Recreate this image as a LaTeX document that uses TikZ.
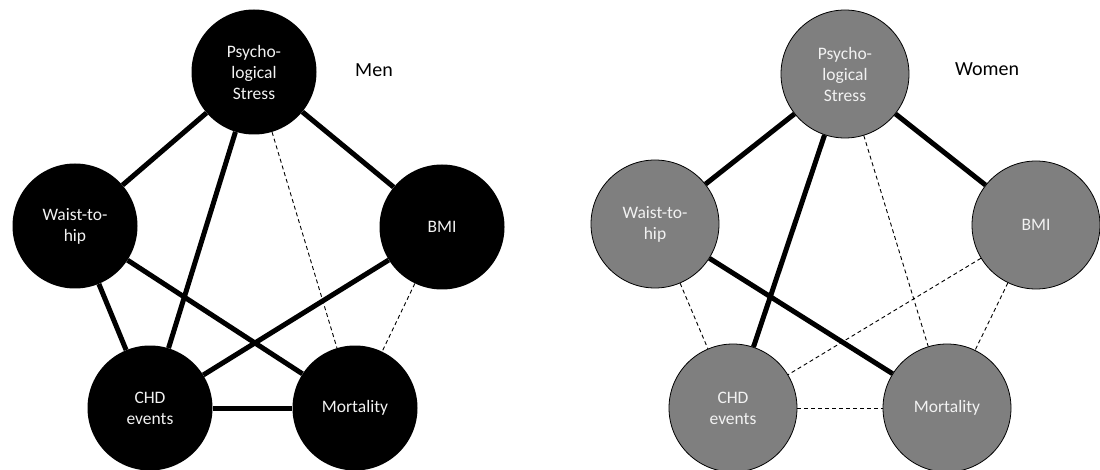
\documentclass[tikz,border=0pt]{standalone}
\usepackage{fontspec}
\setmainfont{Carlito}
\definecolor{womenfill}{HTML}{7F7F7F}
\definecolor{nodetext}{HTML}{F2F2F2}
\begin{document}
\begin{tikzpicture}[x=1pt,y=-1pt,
  mennode/.style={circle,fill=black,draw=none,minimum size=125pt,inner sep=0pt,
    text=nodetext,align=center,font=\fontsize{17.5}{21}\selectfont},
  womennode/.style={circle,fill=womenfill,draw=black,line width=0.8pt,minimum size=128pt,inner sep=0pt,
    text=nodetext,align=center,font=\fontsize{17.5}{21}\selectfont},
  strong/.style={line width=5pt},
  weak/.style={line width=0.9pt,dash pattern=on 4pt off 3pt},
  grouplabel/.style={font=\fontsize{20}{24}\selectfont,text=black}]
\useasboundingbox (0,0) rectangle (1100,470);
% Men
\node[mennode] (mP) at (254,72) {Psycho-\\logical\\Stress};
\node[mennode] (mW) at (75,226) {Waist-to-\\hip};
\node[mennode] (mB) at (442,227) {BMI};
\node[mennode] (mC) at (150,408) {CHD\\events};
\node[mennode] (mM) at (355,408) {Mortality};
\node[grouplabel] (men) at (374,70) {Men};
\draw[strong] (mP) -- (mW);
\draw[strong] (mP) -- (mC);
\draw[strong] (mP) -- (mB);
\draw[weak] (mP) -- (mM);
\draw[strong] (mW) -- (mC);
\draw[strong] (mW) -- (mM);
\draw[strong] (mB) -- (mC);
\draw[weak] (mB) -- (mM);
\draw[strong] (mC) -- (mM);
% Women
\node[womennode] (wP) at (845,74) {Psycho-\\logical\\Stress};
\node[womennode] (wW) at (655,224) {Waist-to-\\hip};
\node[womennode] (wB) at (1036,225) {BMI};
\node[womennode] (wC) at (733,408) {CHD\\events};
\node[womennode] (wM) at (947,408) {Mortality};
\node[grouplabel] (women) at (987,69) {Women};
\draw[strong] (wP) -- (wW);
\draw[strong] (wP) -- (wC);
\draw[strong] (wP) -- (wB);
\draw[weak] (wP) -- (wM);
\draw[weak] (wW) -- (wC);
\draw[strong] (wW) -- (wM);
\draw[weak] (wB) -- (wC);
\draw[weak] (wB) -- (wM);
\draw[weak] (wC) -- (wM);
\end{tikzpicture}
\end{document}
